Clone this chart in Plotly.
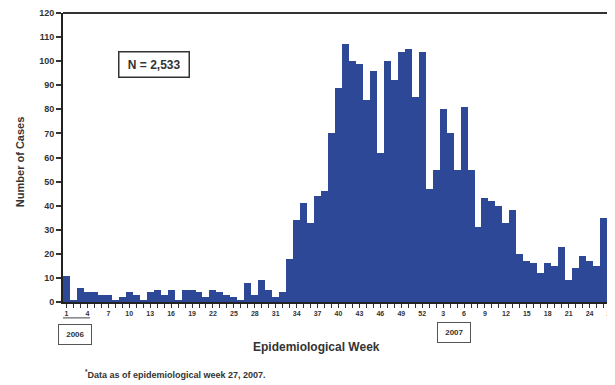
import plotly.graph_objects as go

# Weekly case counts
cases_2006 = [11, 1, 6, 4, 4, 3, 3, 1, 2, 4, 3, 1, 4, 5, 3, 5, 1, 5, 5, 4,
              2, 5, 4, 3, 2, 1, 8, 3, 9, 5, 2, 4, 18, 34, 41, 33, 44, 46, 70, 89,
              107, 100, 99, 84, 96, 62, 100, 92, 104, 105, 85, 104]
cases_2007 = [47, 55, 80, 70, 55, 81, 55, 31, 43, 42, 40, 33, 38, 20, 17, 16, 12,
              16, 15, 23, 9, 14, 19, 17, 15, 35, 7]

weeks_2006 = list(range(1, 53))
weeks_2007 = list(range(1, 28))
tick_weeks_2006 = list(range(1, 53, 3))
tick_weeks_2007 = list(range(3, 28, 3))

counts = cases_2006 + cases_2007
idx = list(range(1, len(counts) + 1))
tickvals = tick_weeks_2006 + [len(weeks_2006) + w for w in tick_weeks_2007]
ticktext = [str(w) for w in tick_weeks_2006 + tick_weeks_2007]

FONT = "Liberation Sans, Arial, sans-serif"
BAR = "#2e4898"

fig = go.Figure(go.Bar(x=idx, y=counts, marker=dict(color=BAR, line=dict(width=0)),
                       width=1.0))

fig.update_layout(
    width=607, height=377,
    margin=dict(l=55, r=1, t=5, b=83),
    paper_bgcolor="white", plot_bgcolor="white",
    bargap=0, showlegend=False,
    font=dict(family=FONT, color="#222"),
)
fig.update_xaxes(
    range=[0.5, len(counts) + 0.5], tickmode="array", tickvals=tickvals, ticktext=ticktext,
    showgrid=False, zeroline=False, showline=True, linecolor="#222", linewidth=2,
    ticks="outside", ticklen=4, tickwidth=1, tickcolor="#333",
    tickfont=dict(size=7, color="#333", family=FONT, weight="bold"),
    minor=dict(ticks="outside", ticklen=4, tickwidth=1, tickcolor="#333",
               tickmode="linear", tick0=1, dtick=1),
)
fig.update_yaxes(
    range=[0, 120], dtick=10, tick0=0, showgrid=False, zeroline=False,
    showline=True, linecolor="#222", linewidth=2,
    ticks="outside", ticklen=5, tickwidth=1.5, tickcolor="#333",
    tickfont=dict(size=9, color="#333", family=FONT, weight="bold"),
)

# Frame top and right
fig.add_shape(type="line", xref="paper", yref="paper", x0=0, x1=1, y0=1, y1=1,
              line=dict(color="#333", width=2))
fig.add_shape(type="line", xref="paper", yref="paper", x0=1, x1=1, y0=0, y1=1,
              line=dict(color="#888", width=1))
# small connector under first labels
fig.add_shape(type="line", xref="paper", yref="paper", x0=0, x1=0.049, y0=-0.055, y1=-0.055,
              line=dict(color="#444", width=1))

ann = [
    dict(text="<b>&nbsp;N = 2,533&nbsp;</b>", x=0.165, y=0.823, font=dict(size=12, color="#333"),
         bordercolor="#333", borderwidth=1.5, borderpad=5, bgcolor="white"),
    dict(text="<b>&nbsp;2006&nbsp;</b>", x=0.021, y=-0.112, font=dict(size=8, color="#333"),
         bordercolor="#555", borderwidth=1, borderpad=5, bgcolor="white"),
    dict(text="<b>&nbsp;2007&nbsp;</b>", x=0.7105, y=-0.104, font=dict(size=8, color="#333"),
         bordercolor="#555", borderwidth=1, borderpad=5, bgcolor="white"),
    dict(text="<b>Epidemiological Week</b>", x=0.46, y=-0.156, font=dict(size=12, color="#333")),
    dict(text="<b>Number of Cases</b>", x=-0.078, y=0.484, textangle=-90,
         font=dict(size=11, color="#333")),
    dict(text="<b><sup>*</sup>Data as of epidemiological week 27, 2007.</b>", x=0.036, y=-0.249,
         xanchor="left", font=dict(size=9, color="#333")),
]
for a in ann:
    a.setdefault("xanchor", "center")
    fig.add_annotation(xref="paper", yref="paper", showarrow=False, yanchor="middle", **a)

fig.write_html("out.html")
